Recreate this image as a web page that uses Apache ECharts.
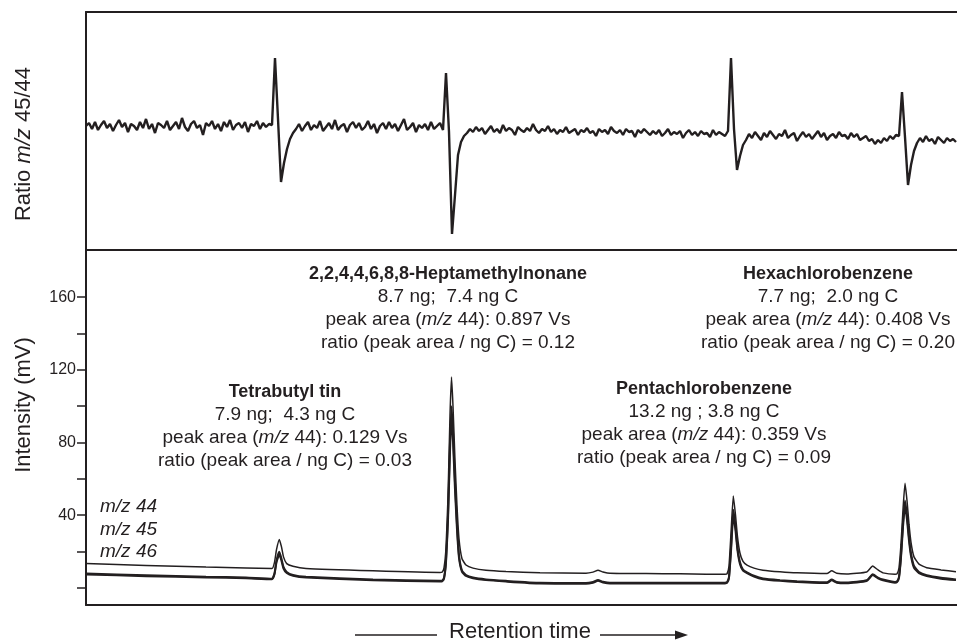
<!DOCTYPE html>
<html>
<head>
<meta charset="utf-8">
<title>Ratio m/z 45/44 and intensity chromatogram</title>
<script src="https://cdn.jsdelivr.net/npm/echarts@6.0.0/dist/echarts.min.js"></script>
<style>
  html, body { margin: 0; padding: 0; background: #fff; }
  #chart { width: 957px; height: 641px; }
</style>
</head>
<body>
<div id="chart"></div>
<script>
// ratio trace, one value every RATIO_STEP time units (arbitrary units, 0 = baseline)
const RATIO_STEP = 3;
const ratioLead = [
  1, 4, -2, 5, -3, 2, 6, -1, 3, -4,
  2, 7, 0, 4, -5, 3, 1, -3, 5, -1,
  8, -2, 3, -6, 4, 2, -1, 6, -3, 1,
  5, -2, 9, 0, -4, 3, 6, -1, 2, -8,
  4, 1, 6, -2, 3, -4, 5, 0, 7, -3,
  2, 4, -1, 5, -5, 3, 1, 6, -2, 4,
  0, 3
];
const ratioTin = [2, 69, 8, -55, -36, -22, -12, -6];
const ratioMid1 = [
  -2, 3, -4, 1, 5, -3, 2, -1, 6, -4,
  0, 4, -2, 7, -3, 1, 3, -5, 2, 5,
  -1, 4, -3, 0, 6, -2, 3, -6, 1, 4,
  -2, 5, -1, 3, -4, 2, 8, -3, 0, 4,
  -5, 2, -1, 3, -3, 5, -2, 1, 4, -3
];
const ratioHepta = [54, -5, -107, -68, -28, -15, -9];
const ratioMid2 = [
  -6, -2, -5, 0, -4, -1, -7, -3, 1, -5,
  -2, -6, 2, -4, -1, -3, -8, 0, -3, -5,
  -1, -4, 3, -3, -6, -2, -4, 1, -5, -2,
  -7, -3, -5, 0, -6, -4, -2, -8, -3, -5,
  -1, -6, -4, -9, -2, -5, -3, -7, 0, -4,
  -6, -3, -8, -2, -5, -4, -10, -3, -6, -2,
  -5, -8, -4, -7, -3, -9, -6, -2, -8, -5,
  -7, -4, -11, -6, -3, -8, -5, -9, -4, -7,
  -6, -10, -3, -8, -5, -7, -9, -4
];
const ratioPenta = [69, -2, -43, -29, -18, -13];
const ratioMid3 = [
  -7, -11, -5, -9, -13, -6, -10, -4, -8, -12,
  -7, -9, -3, -11, -8, -6, -14, -9, -5, -10,
  -7, -12, -8, -4, -10, -6, -13, -9, -7, -11,
  -5, -9, -8, -12, -6, -10, -7, -13, -11, -9,
  -14, -12, -17, -13, -16, -11, -14, -9, -12, -8
];
const ratioHexa = [-9, 35, -10, -58, -38, -24, -16];
const ratioTail = [-11, -15, -9, -14, -12, -17, -10, -13, -16, -11, -14, -12, -15];

// chromatogram: retention time (arbitrary units) and intensity in mV
const chromT = [
  0, 60, 120, 160, 186, 188.5, 190.5, 193.3, 195.5, 197.5, 200.7, 207, 220, 287, 354,
  356, 358, 360, 362, 364, 365.5, 367, 369, 371, 373, 376, 380, 387, 400, 420, 454,
  500, 507, 512, 517, 524, 560, 594, 620, 639,
  641, 643, 645, 647.3, 649.5, 651.5, 654, 657, 661, 668, 677, 694, 711,
  741, 745.7, 750.7, 760.7, 780.7, 786.7, 792, 797, 809,
  811, 813, 815, 817, 819, 821, 823, 825, 828, 833, 840.7, 855, 870
];
const mz44 = [
  13.3, 12.3, 11.4, 10.9, 10.6, 14, 21, 26.6, 22.5, 17, 13.3, 11.8, 10.6, 9.3, 8.4,
  8.5, 11, 22, 50, 95, 116, 100, 70, 45, 27, 16, 12.5, 10.8, 9.6, 8.9, 8.2,
  8.0, 8.6, 9.6, 8.7, 8.0, 7.8, 7.7, 7.5, 7.4,
  7.6, 12, 30, 50.5, 40, 28, 19, 14.5, 12.4, 10.8, 9.7, 8.8, 8.2,
  7.8, 9.3, 8.0, 7.6, 8.7, 12.0, 9.8, 8.2, 7.4,
  7.6, 11, 24, 43, 57.5, 48, 35, 25, 17, 13, 11, 9.8, 8.8
];
const mz45 = [
  7.8, 6.9, 6.1, 5.6, 5.0, 8, 15, 19.8, 16, 11.5, 8.7, 7.0, 6.0, 4.5, 3.8,
  3.9, 5.5, 15, 40, 80, 100, 86, 58, 35, 18, 9.5, 7.0, 5.6, 4.6, 3.8, 2.7,
  2.6, 3.2, 4.2, 3.3, 2.7, 2.7, 2.7, 2.7, 2.8,
  3.0, 6, 22, 43, 34, 22, 14, 10, 8.5, 6.6, 5.1, 4.2, 3.6,
  3.0, 4.5, 3.2, 2.9, 4.1, 7.4, 5.6, 4.5, 3.2,
  3.5, 6, 18, 36, 48, 40, 28, 19, 12, 8.6, 6.9, 5.5, 4.6
];
const mz46 = [
  7.3, 6.4, 5.7, 5.2, 4.7, 7.4, 14, 18.3, 14.8, 10.6, 8.1, 6.6, 5.6, 4.1, 3.4,
  3.5, 5.0, 14, 37, 75, 94, 81, 54, 32, 16.5, 8.8, 6.5, 5.2, 4.2, 3.4, 2.3,
  2.2, 2.8, 3.8, 2.9, 2.3, 2.3, 2.3, 2.3, 2.4,
  2.6, 5.5, 20, 40, 31.5, 20.5, 13, 9.4, 8.0, 6.1, 4.7, 3.8, 3.2,
  2.6, 4.1, 2.8, 2.5, 3.7, 7.0, 5.2, 4.1, 2.8,
  3.1, 5.5, 16.5, 33.5, 45, 37.5, 26, 17.5, 11, 8.0, 6.4, 5.0, 4.2
];

const intensityTicks = [0, 20, 40, 60, 80, 100, 120, 140, 160];
const intensityLabels = [40, 80, 120, 160];

const compounds = ['Tetrabutyl tin', '2,2,4,4,6,8,8-Heptamethylnonane', 'Pentachlorobenzene', 'Hexachlorobenzene'];
const amounts = ['7.9 ng;  4.3 ng C', '8.7 ng;  7.4 ng C', '13.2 ng ; 3.8 ng C', '7.7 ng;  2.0 ng C'];
const peakAreas = ['0.129', '0.897', '0.359', '0.408'];
const areaRatios = ['0.03', '0.12', '0.09', '0.20'];
const traceNames = ['44', '45', '46'];

// layout of the annotation blocks (pixels)
const blockX = [285, 448, 704, 828];
const blockY = [392, 274, 389, 274];
const LINE_GAP = 23;

const INK = '#231f20';
const FONT = '"Liberation Sans", Arial, Helvetica, sans-serif';

const ratio = [].concat(ratioLead, ratioTin, ratioMid1, ratioHepta, ratioMid2,
  ratioPenta, ratioMid3, ratioHexa, ratioTail);

const rich = size => ({
  t: { fontFamily: FONT, fontSize: size, fill: INK },
  i: { fontFamily: FONT, fontSize: size, fill: INK, fontStyle: 'italic' },
  b: { fontFamily: FONT, fontSize: size, fill: INK, fontWeight: 'bold' }
});

function textEl(x, y, text, size, align, rotation) {
  return {
    type: 'text',
    x: x,
    y: y,
    rotation: rotation || 0,
    silent: true,
    style: {
      text: text,
      rich: rich(size),
      align: align || 'center',
      verticalAlign: 'middle'
    }
  };
}

const graphic = [];
compounds.forEach((name, k) => {
  const x = blockX[k];
  const y = blockY[k];
  graphic.push(textEl(x, y, '{b|' + name + '}', 18));
  graphic.push(textEl(x, y + LINE_GAP, '{t|' + amounts[k] + '}', 19));
  graphic.push(textEl(x, y + 2 * LINE_GAP,
    '{t|peak area (}{i|m/z}{t| 44): ' + peakAreas[k] + ' Vs}', 19));
  graphic.push(textEl(x, y + 3 * LINE_GAP,
    '{t|ratio (peak area / ng C) = ' + areaRatios[k] + '}', 19));
});
traceNames.forEach((n, k) => {
  graphic.push(textEl(100, 507 + k * 22.5, '{i|m/z ' + n + '}', 19, 'left'));
});
graphic.push(textEl(24, 144, '{t|Ratio }{i|m/z}{t| 45/44}', 22, 'center', Math.PI / 2));
graphic.push(textEl(24, 405, '{t|Intensity (mV)}', 22, 'center', Math.PI / 2));
graphic.push(textEl(520, 632, '{t|Retention time}', 22));
graphic.push({
  type: 'line', silent: true,
  shape: { x1: 355, y1: 635, x2: 437, y2: 635 },
  style: { stroke: INK, lineWidth: 1.5 }
});
graphic.push({
  type: 'line', silent: true,
  shape: { x1: 600, y1: 635, x2: 677, y2: 635 },
  style: { stroke: INK, lineWidth: 1.5 }
});
graphic.push({
  type: 'polygon', silent: true,
  shape: { points: [[675, 630.5], [688, 635], [675, 639.5]] },
  style: { fill: INK }
});

const axisLine = { show: true, onZero: false, lineStyle: { color: INK, width: 2 } };
const bareAxis = (grid, pos, min, max) => ({
  gridIndex: grid,
  type: 'value',
  position: pos,
  min: min,
  max: max,
  axisLine: axisLine,
  axisTick: { show: false },
  axisLabel: { show: false },
  splitLine: { show: false }
});

const lineSeries = (xi, yi, data, width) => ({
  type: 'line',
  xAxisIndex: xi,
  yAxisIndex: yi,
  data: data,
  showSymbol: false,
  smooth: 0.15,
  lineStyle: { color: INK, width: width },
  silent: true
});

const option = {
  animation: false,
  grid: [
    { left: 86, right: 0, top: 12, height: 238 },
    { left: 86, right: 0, top: 250, height: 355 }
  ],
  xAxis: [
    bareAxis(0, 'bottom', 0, 871),
    bareAxis(0, 'top', 0, 871),
    bareAxis(1, 'bottom', 0, 871)
  ],
  yAxis: [
    bareAxis(0, 'left', -123, 115),
    {
      gridIndex: 1,
      type: 'value',
      min: -9.5,
      max: 186,
      axisLine: axisLine,
      axisTick: {
        show: true,
        customValues: intensityTicks,
        length: 9,
        lineStyle: { color: INK, width: 1.5 }
      },
      axisLabel: {
        show: true,
        customValues: intensityLabels,
        margin: 10,
        color: INK,
        fontFamily: FONT,
        fontSize: 16
      },
      splitLine: { show: false }
    }
  ],
  series: [
    Object.assign(lineSeries(0, 0, ratio.map((v, i) => [i * RATIO_STEP, v]), 2.4), { smooth: false }),
    lineSeries(2, 1, chromT.map((t, i) => [t, mz46[i]]), 2),
    lineSeries(2, 1, chromT.map((t, i) => [t, mz45[i]]), 2),
    lineSeries(2, 1, chromT.map((t, i) => [t, mz44[i]]), 1.5)
  ],
  graphic: graphic
};

const chart = echarts.init(document.getElementById('chart'));
chart.setOption(option);
</script>
</body>
</html>
